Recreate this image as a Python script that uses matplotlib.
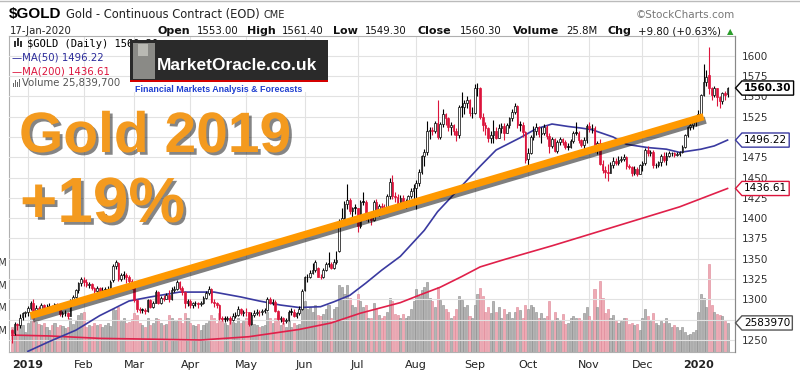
import matplotlib
matplotlib.use('Agg')
import matplotlib.pyplot as plt
import matplotlib.patheffects as pe
from matplotlib.path import Path
from matplotlib.patches import Rectangle
import numpy as np
import pandas as pd

# ---- data ----
holidays = ['2018-12-25', '2019-01-01', '2019-01-21', '2019-02-18', '2019-04-19', '2019-05-27',
            '2019-07-04', '2019-09-02', '2019-11-28', '2019-12-25', '2020-01-01']

opens = [1262, 1258, 1270, 1268, 1278, 1283,
         1284, 1289, 1295, 1287, 1290, 1285, 1293, 1288, 1290, 1292, 1289, 1294, 1292, 1282, 1283, 1283, 1280, 1298, 1303, 1311, 1320,
         1324, 1322, 1318, 1319, 1314, 1310, 1314, 1308, 1312, 1312, 1313, 1324, 1341, 1345, 1325, 1330, 1330, 1328, 1323,
         1316, 1299, 1288, 1287, 1287, 1286, 1299, 1291, 1296, 1309, 1296, 1302, 1301, 1306, 1300, 1312, 1313, 1322, 1314, 1309, 1295,
         1298, 1293, 1295, 1295, 1294, 1295, 1302, 1308, 1313, 1297, 1295, 1293, 1277, 1276, 1276, 1277, 1274, 1280, 1281, 1288, 1283,
         1285, 1284, 1270, 1281, 1283, 1285, 1284, 1286, 1287, 1301, 1296, 1297, 1286, 1276, 1277, 1273, 1274, 1285, 1285, 1280, 1283, 1288,
         1312, 1327, 1328, 1333, 1336, 1339, 1328, 1327, 1336, 1344, 1344, 1339, 1346, 1360, 1397, 1400, 1418, 1423, 1409, 1413,
         1413, 1390, 1420, 1420, 1400, 1400, 1398, 1420, 1406, 1415, 1414, 1412, 1427, 1445, 1427, 1426, 1418, 1425, 1415, 1420, 1427, 1434,
         1437, 1443, 1457, 1476, 1482, 1508, 1509, 1508, 1517, 1500, 1516, 1528, 1523, 1512, 1515, 1508, 1503, 1537, 1537, 1542, 1546, 1529,
         1529, 1560, 1560, 1525, 1515, 1511, 1499, 1503, 1508, 1499, 1511, 1513, 1505, 1515, 1523, 1531, 1538, 1515, 1515, 1506,
         1473, 1480, 1500, 1507, 1512, 1504, 1505, 1512, 1501, 1489, 1497, 1483, 1494, 1497, 1494, 1488, 1488, 1495, 1505, 1505, 1496, 1490, 1496,
         1513, 1511, 1511, 1484, 1493, 1467, 1459, 1457, 1456, 1465, 1471, 1468, 1472, 1473, 1475, 1464, 1463, 1456, 1461, 1455,
         1465, 1468, 1484, 1480, 1481, 1465, 1466, 1469, 1477, 1472, 1477, 1480, 1480, 1478, 1479, 1481, 1488, 1503, 1512, 1515, 1518,
         1523, 1528, 1552, 1568, 1576, 1560, 1552, 1560, 1549, 1544, 1554, 1553]
highs = [1264, 1272, 1271, 1282, 1285, 1286,
         1292, 1298, 1300, 1293, 1292, 1296, 1294, 1294, 1295, 1293, 1296, 1295, 1293, 1286, 1287, 1285, 1300, 1306, 1313, 1322, 1328,
         1328, 1325, 1322, 1320, 1315, 1317, 1315, 1315, 1315, 1316, 1324, 1344, 1348, 1346, 1333, 1335, 1332, 1330, 1325,
         1318, 1301, 1291, 1290, 1290, 1301, 1300, 1298, 1311, 1310, 1304, 1305, 1308, 1312, 1315, 1316, 1324, 1323, 1317, 1310, 1300,
         1300, 1297, 1298, 1297, 1298, 1304, 1310, 1316, 1314, 1300, 1297, 1294, 1280, 1279, 1279, 1279, 1283, 1284, 1292, 1289, 1287,
         1289, 1285, 1284, 1287, 1288, 1287, 1288, 1290, 1303, 1303, 1300, 1299, 1287, 1280, 1278, 1277, 1287, 1289, 1288, 1285, 1292, 1313,
         1329, 1331, 1336, 1345, 1348, 1340, 1331, 1339, 1346, 1358, 1346, 1350, 1360, 1399, 1412, 1421, 1442, 1425, 1414, 1417,
         1413, 1422, 1432, 1423, 1404, 1404, 1423, 1424, 1418, 1419, 1418, 1430, 1449, 1453, 1432, 1430, 1428, 1429, 1424, 1429, 1437, 1442,
         1447, 1460, 1478, 1485, 1520, 1512, 1512, 1520, 1546, 1518, 1534, 1530, 1525, 1518, 1516, 1511, 1540, 1555, 1545, 1550, 1547, 1537,
         1565, 1567, 1562, 1529, 1518, 1512, 1507, 1521, 1512, 1516, 1517, 1517, 1517, 1525, 1535, 1542, 1539, 1520, 1519, 1508,
         1486, 1503, 1514, 1517, 1513, 1512, 1516, 1515, 1505, 1500, 1499, 1496, 1500, 1499, 1496, 1492, 1497, 1507, 1518, 1508, 1497, 1500, 1516,
         1519, 1516, 1513, 1495, 1497, 1472, 1464, 1467, 1469, 1475, 1474, 1476, 1477, 1479, 1476, 1467, 1464, 1464, 1463, 1467,
         1470, 1487, 1489, 1484, 1484, 1468, 1471, 1479, 1482, 1482, 1483, 1482, 1481, 1482, 1483, 1490, 1504, 1513, 1519, 1521, 1525,
         1533, 1553, 1590, 1582, 1611, 1562, 1563, 1560, 1551, 1556, 1557, 1561.4]
lows = [1246, 1256, 1262, 1265, 1275, 1278,
        1280, 1287, 1282, 1284, 1281, 1284, 1285, 1286, 1287, 1286, 1288, 1289, 1279, 1278, 1279, 1276, 1279, 1296, 1302, 1308, 1317,
        1316, 1315, 1314, 1311, 1306, 1308, 1305, 1306, 1309, 1309, 1311, 1322, 1338, 1323, 1323, 1325, 1320, 1320, 1313,
        1297, 1285, 1283, 1283, 1282, 1285, 1289, 1289, 1295, 1294, 1294, 1298, 1300, 1297, 1299, 1309, 1311, 1312, 1306, 1290, 1292,
        1289, 1290, 1292, 1290, 1292, 1294, 1300, 1305, 1295, 1291, 1290, 1275, 1273, 1272, 1273, 1270, 1273, 1277, 1279, 1281, 1280,
        1280, 1267, 1268, 1278, 1281, 1280, 1281, 1283, 1286, 1294, 1293, 1284, 1274, 1272, 1270, 1271, 1273, 1281, 1278, 1277, 1281, 1287,
        1310, 1321, 1326, 1331, 1334, 1327, 1325, 1326, 1335, 1340, 1337, 1337, 1344, 1358, 1390, 1399, 1411, 1405, 1400, 1405,
        1383, 1388, 1416, 1398, 1395, 1392, 1397, 1404, 1403, 1409, 1406, 1410, 1424, 1424, 1420, 1414, 1416, 1412, 1412, 1418, 1425, 1420,
        1411, 1440, 1455, 1464, 1478, 1498, 1502, 1505, 1497, 1497, 1512, 1515, 1508, 1503, 1502, 1495, 1499, 1525, 1528, 1536, 1526, 1523,
        1528, 1550, 1522, 1507, 1503, 1494, 1493, 1492, 1497, 1499, 1505, 1496, 1505, 1511, 1520, 1528, 1511, 1508, 1500, 1468,
        1465, 1479, 1496, 1503, 1500, 1492, 1503, 1497, 1480, 1486, 1481, 1480, 1490, 1490, 1485, 1484, 1486, 1493, 1502, 1492, 1488, 1485, 1493,
        1506, 1505, 1481, 1479, 1466, 1456, 1449, 1446, 1456, 1462, 1465, 1466, 1469, 1470, 1461, 1460, 1452, 1453, 1452, 1454,
        1458, 1466, 1477, 1476, 1462, 1462, 1463, 1464, 1469, 1466, 1475, 1476, 1475, 1476, 1476, 1480, 1487, 1500, 1509, 1510, 1514,
        1521, 1527, 1550, 1563, 1553, 1545, 1549, 1538, 1536, 1541, 1546, 1549.3]
closes = [1258, 1270, 1268, 1277, 1283, 1284,
          1289, 1295, 1286, 1290, 1284, 1293, 1288, 1290, 1292, 1289, 1294, 1292, 1282, 1283, 1283, 1280, 1298, 1303, 1311, 1320, 1325,
          1322, 1318, 1319, 1314, 1310, 1314, 1308, 1312, 1312, 1313, 1322, 1341, 1346, 1325, 1330, 1330, 1328, 1323, 1318,
          1299, 1288, 1287, 1287, 1286, 1299, 1291, 1296, 1309, 1296, 1302, 1301, 1306, 1300, 1312, 1313, 1322, 1314, 1309, 1295, 1298,
          1293, 1295, 1295, 1294, 1295, 1302, 1308, 1313, 1297, 1295, 1293, 1277, 1276, 1276, 1277, 1274, 1280, 1281, 1288, 1283, 1285,
          1284, 1270, 1281, 1283, 1285, 1284, 1286, 1287, 1301, 1296, 1297, 1286, 1276, 1277, 1273, 1274, 1285, 1285, 1280, 1283, 1288, 1310,
          1327, 1328, 1333, 1336, 1346, 1328, 1327, 1336, 1344, 1344, 1339, 1346, 1348, 1397, 1400, 1418, 1423, 1409, 1413, 1413,
          1390, 1420, 1420, 1400, 1400, 1398, 1420, 1406, 1415, 1414, 1412, 1427, 1445, 1427, 1426, 1418, 1425, 1415, 1420, 1427, 1434, 1437,
          1443, 1457, 1476, 1482, 1508, 1509, 1508, 1517, 1500, 1516, 1528, 1523, 1512, 1515, 1508, 1503, 1537, 1537, 1542, 1546, 1529, 1529,
          1560, 1560, 1525, 1515, 1511, 1499, 1503, 1508, 1499, 1511, 1513, 1505, 1515, 1523, 1531, 1538, 1515, 1515, 1506, 1472,
          1480, 1500, 1507, 1512, 1504, 1505, 1512, 1501, 1489, 1497, 1483, 1494, 1497, 1494, 1488, 1488, 1495, 1505, 1505, 1496, 1490, 1496, 1513,
          1511, 1511, 1484, 1493, 1467, 1459, 1457, 1456, 1465, 1471, 1468, 1472, 1473, 1475, 1464, 1463, 1456, 1461, 1455, 1465,
          1468, 1484, 1480, 1481, 1465, 1466, 1469, 1477, 1472, 1477, 1480, 1480, 1478, 1479, 1481, 1488, 1503, 1512, 1515, 1518, 1523,
          1528, 1552, 1568, 1574, 1560, 1552, 1560, 1549, 1544, 1554, 1552, 1560.3]
# volume in millions
volumes = [22, 15, 25, 28, 24, 18,
           26, 34, 33, 27, 25, 24, 26, 22, 20, 24, 26, 22, 24, 23, 21, 22, 30, 25, 28, 33, 35,
           36, 22, 24, 23, 26, 24, 25, 22, 24, 26, 23, 38, 37, 40, 28, 30, 26, 27, 29,
           35, 33, 26, 24, 22, 30, 24, 26, 30, 29, 26, 24, 25, 33, 30, 28, 28, 30, 26, 35, 30,
           26, 24, 23, 25, 20, 24, 26, 28, 33, 30, 26, 35, 30, 26, 24, 30, 27, 26, 30, 26, 28,
           30, 34, 27, 25, 24, 22, 23, 24, 36, 30, 26, 30, 33, 24, 26, 22, 28, 22, 26, 24, 25, 38,
           45, 38, 40, 36, 42, 33, 32, 34, 38, 42, 30, 38, 40, 60, 58, 52, 60, 48, 42, 40,
           52, 45, 40, 42, 30, 30, 44, 38, 33, 30, 32, 36, 48, 45, 34, 33, 30, 34, 30, 32, 38, 45,
           56, 50, 55, 58, 62, 48, 45, 40, 58, 46, 42, 38, 36, 30, 32, 38, 50, 46, 40, 42, 32, 30,
           42, 52, 57, 50, 36, 40, 35, 45, 36, 40, 30, 38, 34, 36, 30, 36, 40, 37, 30, 42,
           38, 42, 40, 36, 30, 35, 30, 32, 45, 28, 36, 30, 28, 34, 25, 26, 30, 32, 30, 30, 28, 35, 40,
           32, 28, 56, 40, 63, 48, 35, 38, 30, 33, 28, 26, 28, 30, 30, 25, 26, 24, 25, 20,
           30, 38, 32, 28, 35, 26, 24, 28, 26, 30, 26, 22, 24, 22, 20, 22, 18, 15, 16, 18, 20,
           36, 52, 48, 40, 78, 42, 36, 34, 33, 32, 28, 25.84]

ma50_dates = ['2019-01-02', '2019-01-14', '2019-01-29', '2019-02-11', '2019-02-27', '2019-03-11', '2019-03-26',
              '2019-04-12', '2019-04-29', '2019-05-08', '2019-05-20', '2019-05-30', '2019-06-11', '2019-06-18',
              '2019-06-26', '2019-07-05', '2019-07-15', '2019-07-24', '2019-08-06', '2019-08-13', '2019-08-27',
              '2019-09-05', '2019-09-13', '2019-09-26', '2019-10-04', '2019-10-14', '2019-10-22', '2019-10-29',
              '2019-11-04', '2019-11-14', '2019-11-21', '2019-12-04', '2019-12-13', '2019-12-20', '2020-01-03',
              '2020-01-10', '2020-01-17']
ma50_vals = [1236, 1248, 1262, 1280, 1298, 1303, 1309, 1309, 1303, 1298, 1293, 1290, 1291, 1297, 1305, 1320,
             1336, 1353, 1385, 1408, 1443, 1464, 1484, 1499, 1510, 1516, 1513, 1511, 1509, 1500, 1491, 1487,
             1485, 1481, 1485, 1489, 1496.22]
ma200_dates = ['2018-12-21', '2019-01-14', '2019-02-11', '2019-03-11', '2019-04-05', '2019-05-02', '2019-05-30',
               '2019-06-17', '2019-07-02', '2019-07-24', '2019-08-02', '2019-08-14', '2019-08-26', '2019-09-05',
               '2019-09-18', '2019-10-14', '2019-11-07', '2019-11-29', '2019-12-20', '2020-01-17']
ma200_vals = [1256, 1255, 1252, 1251, 1250, 1254, 1263, 1271, 1283, 1296, 1305, 1315, 1328, 1340, 1349, 1366,
              1384, 1399, 1414, 1436.61]

trend_dates = ['2019-01-03', '2020-01-06']
trend_vals = [1280, 1525]

price_ticks = list(range(1250, 1601, 25))
vol_ticks = [20, 40, 60, 80]

# ---- figure ----
W, H = 800, 376
fig = plt.figure(figsize=(W / 100, H / 100), dpi=100)
fig.patch.set_facecolor('white')


def fx(px):
    return px / W


def fy(py):
    return 1 - py / H


days = pd.bdate_range('2018-12-21', '2020-01-17')
days = days[~days.isin(pd.to_datetime(holidays))]
x = np.arange(len(days))
o, h, l, c = (np.array(a, dtype=float) for a in (opens, highs, lows, closes))
vol = np.array(volumes, dtype=float)
prev = np.r_[o[0], c[:-1]]
up = c >= prev

RED = '#dc143c'
GRID = '#e2e2e2'

axv = fig.add_axes([fx(9), fy(352), fx(735) - fx(9), fy(36) - fy(352)])
axv.set_xlim(-1.1, 271.8)
axv.set_ylim(0, 281)
axv.bar(x, vol, width=0.78, color=np.where(up, '#b4b4b4', '#eeaab4'),
        edgecolor=np.where(up, '#8a8a8a', '#dd8595'), linewidth=0.4, zorder=2)

month_idx = [i for i in range(1, len(days)) if days[i].month != days[i - 1].month]
month_lab = [days[i].strftime('%Y') if days[i].month == 1 else days[i].strftime('%b') for i in month_idx]
axv.set_xticks(month_idx)
axv.set_xticklabels(month_lab, fontsize=8, color='#222', family='DejaVu Sans')
for t in axv.get_xticklabels():
    if t.get_text().isdigit():
        t.set_fontweight('bold')
axv.tick_params(axis='x', length=0, pad=6)
axv.grid(axis='x', color=GRID, lw=0.8, zorder=0)
axv.set_axisbelow(True)
axv.set_yticks(vol_ticks)
axv.set_yticklabels([f'{v}M' for v in vol_ticks], fontsize=7, color='#333')
axv.tick_params(axis='y', length=0, pad=1)
for s in axv.spines.values():
    s.set_color('#b0b0b0')
    s.set_linewidth(0.8)

ax = axv.twinx()
ax.set_ylim(1235.2, 1624.4)
ax.set_yticks(price_ticks)
ax.set_yticklabels([str(v) for v in price_ticks], fontsize=7.5, color='#333', family='DejaVu Sans')
ax.tick_params(axis='y', length=0, pad=5)
ax.grid(axis='y', color=GRID, lw=0.8)
for s in ax.spines.values():
    s.set_visible(False)
ax.spines['right'].set_visible(True)
ax.spines['right'].set_color('#888')

# moving averages
ax.plot(days.get_indexer(pd.to_datetime(ma200_dates)), ma200_vals, color='#e0204a', lw=1.2, zorder=3)
ax.plot(days.get_indexer(pd.to_datetime(ma50_dates)), ma50_vals, color='#3a3aa0', lw=1.2, zorder=3)

# candles
col = np.where(up, 'black', RED)
hollow = c > o
ax.vlines(x, l, h, colors=col, lw=0.8, zorder=4)
ax.bar(x, np.maximum(np.abs(c - o), 0.7), bottom=np.minimum(o, c), width=0.62,
       color=np.where(hollow, 'white', col), edgecolor=col, linewidth=0.5, zorder=5)

# trend line
ax.plot(days.get_indexer(pd.to_datetime(trend_dates)), trend_vals, color='#ff9900', lw=5.2,
        solid_capstyle='butt', zorder=6,
        path_effects=[pe.SimpleLineShadow(offset=(1.5, -2.5), shadow_color='black', alpha=0.5), pe.Normal()])


# last-value tags on the right
def tag_shape(x0, y0, width, height, mutation_size):
    pad = 0.2 * mutation_size
    x0, y0 = x0 - pad, y0 - pad
    w, hh = width + 2 * pad, height + 2 * pad
    tip = 0.45 * hh
    verts = [(x0 - tip, y0 + hh / 2), (x0, y0), (x0 + w, y0), (x0 + w, y0 + hh), (x0, y0 + hh),
             (x0 - tip, y0 + hh / 2)]
    return Path(verts, [Path.MOVETO] + [Path.LINETO] * 4 + [Path.CLOSEPOLY])


def tag(trans, val, txt, ec, bold=False):
    ax.annotate(txt, xy=(1, val), xycoords=trans, xytext=(9, 0),
                textcoords='offset pixels', ha='left', va='center', fontsize=7.5,
                fontweight='bold' if bold else 'normal', color='black', family='DejaVu Sans',
                bbox=dict(boxstyle=tag_shape, fc='white', ec=ec, lw=1.0),
                annotation_clip=False, zorder=10)


tag(ax.get_yaxis_transform(), closes[-1], f'{closes[-1]:.2f}', 'black', bold=True)
tag(ax.get_yaxis_transform(), ma50_vals[-1], f'{ma50_vals[-1]:.2f}', '#3a3aa0')
tag(ax.get_yaxis_transform(), ma200_vals[-1], f'{ma200_vals[-1]:.2f}', RED)
tag(axv.get_yaxis_transform(), volumes[-1], '2583970', '#555')

# ---- header ----
fig.add_artist(plt.Line2D([0, 1], [fy(1), fy(1)], color='#bbbbbb', lw=1))
fig.text(fx(9), fy(18), '$GOLD', fontsize=11, fontweight='bold', family='Liberation Sans', va='baseline')
fig.text(fx(66), fy(18), 'Gold - Continuous Contract (EOD)', fontsize=8.3, family='DejaVu Sans', va='baseline', color='#222')
fig.text(fx(263), fy(18), 'CME', fontsize=7, family='DejaVu Sans', va='baseline', color='#222')
fig.text(fx(10), fy(34), '17-Jan-2020', fontsize=7.3, family='DejaVu Sans', va='baseline', color='#222')
fig.text(fx(735), fy(18), '\u00a9StockCharts.com', fontsize=7.5, family='DejaVu Sans', va='baseline',
         ha='right', color='#777')
hdr = [(158, 'Open', True), (197, '1553.00', False), (247, 'High', True), (282, '1561.40', False),
       (333, 'Low', True), (365, '1549.30', False), (418, 'Close', True), (460, '1560.30', False),
       (513, 'Volume', True), (566, '25.8M', False), (608, 'Chg', True), (638, '+9.80 (+0.63%)', False)]
for px, s, b in hdr:
    fig.text(fx(px), fy(34), s, fontsize=8 if b else 7.3, fontweight='bold' if b else 'normal',
             family='DejaVu Sans', va='baseline', color='#111')
fig.text(fx(727), fy(34), '\u25b2', fontsize=6, color='#2a9d2a', va='baseline')

# ---- legend inside plot ----
for bx, by, bh in ((14, 47, 6), (17, 46, 8), (20, 47, 6)):
    fig.add_artist(Rectangle((fx(bx), fy(by)), fx(1.5), bh / H, color='#333', lw=0))
fig.text(fx(27), fy(44), '$GOLD (Daily) 1560.30', fontsize=7.5, family='DejaVu Sans Mono', va='center')
fig.text(fx(12), fy(58), '\u2014MA(50) 1496.22', fontsize=7.3, family='DejaVu Sans', va='center', color='#2a2a9a')
fig.text(fx(12), fy(71), '\u2014MA(200) 1436.61', fontsize=7.3, family='DejaVu Sans', va='center', color=RED)
for bx, bh in ((13, 4), (15, 7), (17, 5), (19, 8)):
    fig.add_artist(Rectangle((fx(bx), fy(87)), fx(1.4), bh / H, color='#666', lw=0))
fig.text(fx(22), fy(83), 'Volume 25,839,700', fontsize=7.3, family='DejaVu Sans', va='center', color='#555')

# ---- MarketOracle logo ----
fig.add_artist(Rectangle((fx(130), fy(92)), fx(198), 12 / H, color='white', lw=0, zorder=20))
fig.add_artist(Rectangle((fx(130), fy(80)), fx(198), 40 / H, color='#2a2a2a', lw=0, zorder=20))
fig.add_artist(Rectangle((fx(130), fy(82)), fx(198), 2 / H, color='#d40000', lw=0, zorder=21))
fig.add_artist(Rectangle((fx(133), fy(79)), fx(22), 36 / H, color='#8a8a86', lw=0, zorder=21))
fig.add_artist(Rectangle((fx(138), fy(56)), fx(10), 12 / H, color='#b9b9b3', lw=0, zorder=22))
fig.text(fx(157), fy(65), 'MarketOracle.co.uk', fontsize=12.5, fontweight='bold', family='Liberation Sans',
         color='white', va='center', zorder=23)
fig.text(fx(135), fy(89), 'Financial Markets Analysis & Forecasts', fontsize=6.4, fontweight='bold',
         family='Liberation Sans', color='#1f3fd0', va='center', zorder=23)

# ---- big annotations ----
shadow = [pe.SimplePatchShadow(offset=(2, -2), shadow_rgbFace='#222', alpha=0.55), pe.Normal()]
fig.text(fx(19), fy(152), 'Gold 2019', fontsize=41, fontweight='bold', family='Liberation Sans',
         color='#f39a1f', va='baseline', path_effects=shadow, zorder=15)
fig.text(fx(20), fy(222), '+19%', fontsize=46, fontweight='bold', family='Liberation Sans',
         color='#f39a1f', va='baseline', path_effects=shadow, zorder=15)

fig.savefig('out.png', dpi=100)
